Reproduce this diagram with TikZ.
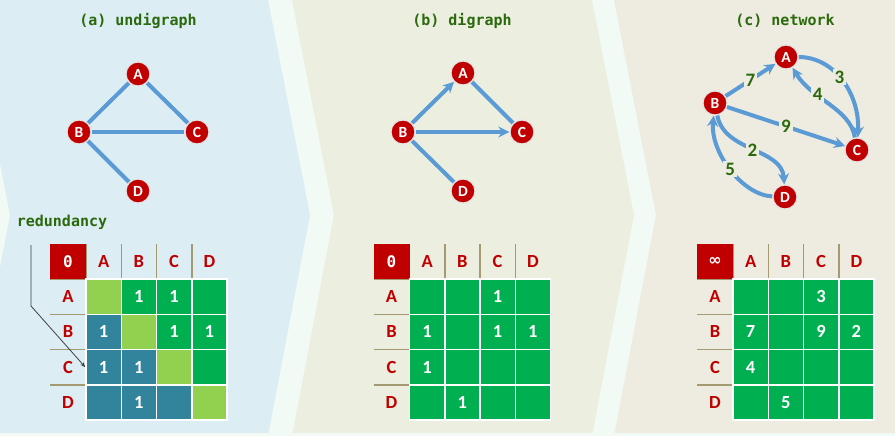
\documentclass[tikz,border=0pt]{standalone}
\usepackage{fontspec}
\setmainfont{Carlito}
\newfontfamily\codefont{DejaVu Sans Mono}
\newfontfamily\symfont{DejaVu Sans}
\usepackage{xcolor}
\usepackage{tikz}
\usetikzlibrary{arrows.meta, positioning, calc, backgrounds}
\definecolor{bgA}{HTML}{DCEDF4}
\definecolor{bgB}{HTML}{ECEFDF}
\definecolor{bgC}{HTML}{EEEBE0}
\definecolor{gap}{HTML}{F1FAF5}
\definecolor{vred}{HTML}{C00000}
\definecolor{edgeblue}{HTML}{5B9BD5}
\definecolor{titlegreen}{HTML}{2B6A0C}
\definecolor{upgreen}{HTML}{00B050}
\definecolor{diaggreen}{HTML}{92D050}
\definecolor{lowteal}{HTML}{31849B}
\definecolor{sepline}{HTML}{A39A72}
\tikzset{
    vertex/.style={circle, fill=vred, draw=white!80!gray, line width=1.2pt, minimum size=24pt, inner sep=0pt, text=white, font=\bfseries\fontsize{15.5}{15.5}\selectfont},
    link/.style={draw=edgeblue, line width=4pt},
    arc/.style={link, -{Stealth[length=11pt, width=11pt]}},
    weight/.style={text=titlegreen, fill=bgC, inner sep=2pt, font=\bfseries\fontsize{19}{19}\selectfont},
    title/.style={text=titlegreen, font=\codefont\bfseries\fontsize{15}{15}\selectfont},
    cell/.style={rectangle, draw=white, line width=1.5pt, minimum size=35.25pt, inner sep=0pt},
    num/.style={text=white, font=\bfseries\fontsize{18.5}{18.5}\selectfont},
    hd/.style={text=vred, font=\bfseries\fontsize{18.5}{18.5}\selectfont},
    corner/.style={rectangle, fill=vred, minimum width=36pt, minimum height=35pt, inner sep=0pt, text=white, font=\codefont\bfseries\fontsize{16}{16}\selectfont},
    sep/.style={draw=sepline, line width=1.5pt},
    ptr/.style={draw=black!75, line width=0.8pt, -{Stealth[length=5pt, width=4pt]}},
}
\begin{document}
\begin{tikzpicture}[x=1pt, y=-1pt]
    \useasboundingbox (0,0) rectangle (895,436);
    % Panels (chevron strips)
    \begin{scope}[on background layer]
        \clip (0,0) rectangle (895,436);
        \fill[gap] (0,0) rectangle (895,436);
        \fill[bgA] (-32,0) -- (268,0) -- (310,215) -- (268,436) -- (-32,436) -- (10,215) -- cycle;
        \fill[bgB] (292,0) -- (592,0) -- (634,215) -- (592,436) -- (292,436) -- (334,215) -- cycle;
        \fill[bgC] (614,0) -- (900,0) -- (900,436) -- (614,436) -- (656,215) -- cycle;
        \fill[gap] (0,433) rectangle (895,436);
    \end{scope}
    % Titles
    \node[title] (ta) at (138,21) {(a) undigraph};
    \node[title] (tb) at (462,21) {(b) digraph};
    \node[title] (tc) at (785,21) {(c) network};
    % (a) undirected graph
    \node[vertex] (aA) at (138,74) {A};
    \node[vertex] (aB) at (79,132) {B};
    \node[vertex] (aC) at (197,132) {C};
    \node[vertex] (aD) at (138,191) {D};
    % (b) directed graph
    \node[vertex] (bA) at (463,73) {A};
    \node[vertex] (bB) at (403,132) {B};
    \node[vertex] (bC) at (522,132) {C};
    \node[vertex] (bD) at (463,191) {D};
    % (c) weighted network
    \node[vertex] (cA) at (786,57) {A};
    \node[vertex] (cB) at (715,103) {B};
    \node[vertex] (cC) at (857,150) {C};
    \node[vertex] (cD) at (785,197) {D};
    % Edges
    \begin{scope}[on background layer]
        \draw[link] (aA) -- (aB);
        \draw[link] (aA) -- (aC);
        \draw[link] (aB) -- (aC);
        \draw[link] (aB) -- (aD);
        \draw[arc] (bB) -- (bA);
        \draw[arc] (bB) -- (bC);
        \draw[link] (bA) -- (bC);
        \draw[link] (bB) -- (bD);
        \draw[arc] (cB) -- node[weight] {7} (cA);
        \draw[arc] (cB) -- node[weight] {9} (cC);
        \draw[arc] (cA) .. controls (835,57) and (860,95) .. node[weight, pos=0.45] {3} (cC);
        \draw[arc] (cC) .. controls (850,108) and (812,100) .. node[weight, pos=0.65] {4} (cA);
        \draw[arc] (cB) .. controls (724,152) and (782,148) .. node[weight] {2} (cD);
        \draw[arc] (cD) .. controls (742,195) and (710,152) .. node[weight] {5} (cB);
    \end{scope}
    % Adjacency matrices
    \foreach \p/\dx/\sym/\tri in {a/0/0/1, b/323.5/0/0, c/647/{\symfont\bfseries ∞}/0} {
        \foreach \k in {0,...,3} {
            \draw[sep] ({86+\dx+\k*35.25}, 244) -- ++(0,35);
            \draw[sep] ({50+\dx}, {279+\k*35.25}) -- ++(36,0);
        }
        \node[corner] (\p00) at ({68+\dx}, 261.5) {\sym};
        \foreach \c/\l in {1/A, 2/B, 3/C, 4/D} {
            \node[hd] (\p h\c) at ({86+\dx+(\c-0.5)*35.25}, 261.5) {\l};
            \node[hd] (\p r\c) at ({68+\dx}, {279+(\c-0.5)*35.25}) {\l};
        }
        \foreach \r in {1,...,4} \foreach \c in {1,...,4} {
            \ifnum\tri=1
                \ifnum\r=\c \def\cf{diaggreen}\else\ifnum\r<\c \def\cf{upgreen}\else\def\cf{lowteal}\fi\fi
            \else \def\cf{upgreen}\fi
            \node[cell, fill=\cf] (\p\r\c) at ({86+\dx+(\c-0.5)*35.25}, {279+(\r-0.5)*35.25}) {};
        }
    }
    % Matrix entries
    \foreach \n/\v in {a12/1, a13/1, a21/1, a23/1, a24/1, a31/1, a32/1, a42/1,
                       b13/1, b21/1, b23/1, b24/1, b31/1, b42/1,
                       c13/3, c21/7, c23/9, c24/2, c31/4, c42/5}
        \node[num] (v\n) at (\n) {\v};
    % Redundancy pointer
    \node[title] (redund) at (62,222) {redundancy};
    \coordinate (rtail) at (31,245);
    \coordinate (rbend) at (31,306);
    \draw[ptr] (rtail) -- (rbend) -- (a31.west);
\end{tikzpicture}
\end{document}
